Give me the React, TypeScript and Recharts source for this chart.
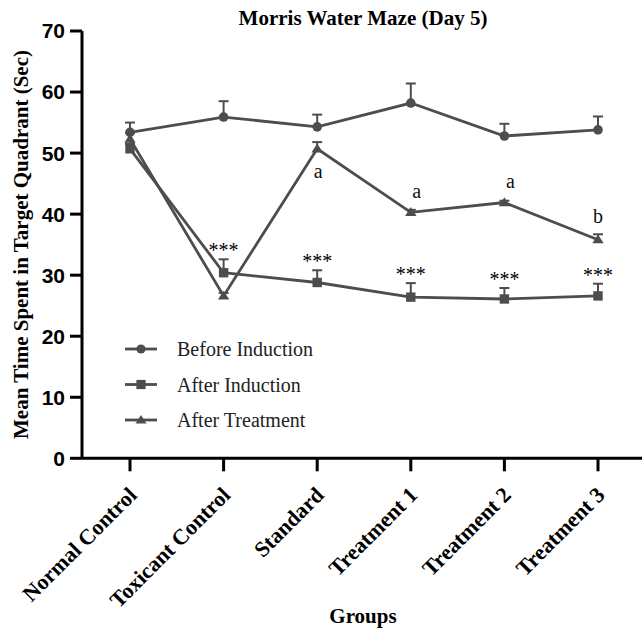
import React from 'react';
import { LineChart, Line, XAxis, YAxis, ErrorBar, LabelList, Legend, Customized } from 'recharts';

const groups = ['Normal Control', 'Toxicant Control', 'Standard', 'Treatment 1', 'Treatment 2', 'Treatment 3'];
const beforeInduction = [53.4, 55.9, 54.3, 58.2, 52.8, 53.8];
const beforeInductionSem = [1.6, 2.6, 2.0, 3.2, 2.0, 2.2];
const afterInduction = [50.7, 30.4, 28.8, 26.4, 26.1, 26.6];
const afterInductionSem = [0.8, 2.2, 2.0, 2.3, 1.8, 2.0];
const afterTreatment = [52.3, 26.6, 50.7, 40.3, 41.9, 35.8];
const afterTreatmentSem = [1.0, 0.5, 1.1, 0.4, 0.3, 0.9];
const inductionMarks = ['', '***', '***', '***', '***', '***'];
const treatmentMarks = ['', '', 'a', 'a', 'a', 'b'];
const yTicks = [0, 10, 20, 30, 40, 50, 60, 70];
const seriesNames = ['Before Induction', 'After Induction', 'After Treatment'];

const data = groups.map((g, i) => ({
  group: g,
  before: beforeInduction[i],
  beforeErr: [0, beforeInductionSem[i]],
  beforeTop: beforeInduction[i] + beforeInductionSem[i],
  induction: afterInduction[i],
  inductionErr: [0, afterInductionSem[i]],
  inductionTop: afterInduction[i] + afterInductionSem[i],
  inductionMark: inductionMarks[i],
  treatment: afterTreatment[i],
  treatmentErr: [0, afterTreatmentSem[i]],
  treatmentTop: afterTreatment[i] + afterTreatmentSem[i],
  treatmentMark: treatmentMarks[i],
}));

// styling
const C = '#4d4d4d';
const SERIF = '"Liberation Serif", "Times New Roman", serif';
const SANS = '"Liberation Sans", Arial, sans-serif';
const letterOffsets = [
  { dx: 0, dy: 0 },
  { dx: 0, dy: 0 },
  { dx: 1, dy: 36 },
  { dx: 6, dy: -12 },
  { dx: 6, dy: -13 },
  { dx: 0, dy: -11 },
];

const CircleDot = (p: any) =>
  p.cx == null ? null : <circle key={`c-${p.index}`} cx={p.cx} cy={p.cy} r={4.8} fill={C} />;
const SquareDot = (p: any) =>
  p.cx == null ? null : (
    <rect key={`s-${p.index}`} x={p.cx - 4.7} y={p.cy - 4.7} width={9.4} height={9.4} fill={C} />
  );
const TriangleDot = (p: any) =>
  p.cx == null ? null : (
    <polygon
      key={`t-${p.index}`}
      points={`${p.cx},${p.cy - 5.2} ${p.cx + 5.7},${p.cy + 3.6} ${p.cx - 5.7},${p.cy + 3.6}`}
      fill={C}
    />
  );
const CapDot = (p: any) =>
  p.cx == null ? null : (
    <line key={`cap-${p.dataKey}-${p.index}`} x1={p.cx - 5} x2={p.cx + 5} y1={p.cy} y2={p.cy} stroke={C} strokeWidth={2} />
  );

const shapeFor = (i: number, cx: number, cy: number) => {
  if (i === 0) return <circle cx={cx} cy={cy} r={4.6} fill={C} />;
  if (i === 1) return <rect x={cx - 4.6} y={cy - 4.6} width={9.2} height={9.2} fill={C} />;
  return <polygon points={`${cx},${cy - 5} ${cx + 5.5},${cy + 3.5} ${cx - 5.5},${cy + 3.5}`} fill={C} />;
};

const GroupTick = (props: any) => {
  const { x, y, payload } = props;
  return (
    <g transform={`translate(${x + 8},${y + 23}) rotate(-45)`}>
      <text x={0} y={0} textAnchor="end" fontFamily={SERIF} fontWeight="bold" fontSize={22} fill="#000">
        {payload.value}
      </text>
    </g>
  );
};

const StarLabel = (props: any) => {
  const { x, y, value } = props;
  if (!value) return null;
  return (
    <text x={x} y={y - 2} textAnchor="middle" fontFamily={SERIF} fontSize={20} fill="#000">
      {value}
    </text>
  );
};

const LetterLabel = (props: any) => {
  const { x, y, value, index } = props;
  if (!value) return null;
  const o = letterOffsets[index] || { dx: 0, dy: 0 };
  return (
    <text x={x + o.dx} y={y + o.dy} textAnchor="middle" fontFamily={SERIF} fontSize={20} fill="#111">
      {value}
    </text>
  );
};

const LegendBox = () => (
  <svg width={280} height={110}>
    {seriesNames.map((name, i) => {
      const rowY = 17 + i * 35.5;
      return (
        <g key={name}>
          <line x1={5} x2={37} y1={rowY} y2={rowY} stroke={C} strokeWidth={2.8} />
          {shapeFor(i, 21, rowY)}
          <text x={57} y={rowY + 7} fontFamily={SERIF} fontSize={20} fill="#222">
            {name}
          </text>
        </g>
      );
    })}
  </svg>
);

const Texts = () => (
  <g>
    <text x={363} y={24.5} textAnchor="middle" fontFamily={SERIF} fontWeight="bold" fontSize={21} fill="#000">
      Morris Water Maze (Day 5)
    </text>
    <text x={363} y={623} textAnchor="middle" fontFamily={SERIF} fontWeight="bold" fontSize={21} fill="#000">
      Groups
    </text>
    <text
      transform="translate(28,244.5) rotate(-90)"
      x={0}
      y={0}
      textAnchor="middle"
      fontFamily={SERIF}
      fontWeight="bold"
      fontSize={21}
      fill="#000"
    >
      Mean Time Spent in Target Quadrant (Sec)
    </text>
  </g>
);

const hiddenLine = (key: string, children?: React.ReactNode, dot: any = false) => (
  <Line
    key={key}
    dataKey={key}
    stroke="none"
    dot={dot}
    activeDot={false}
    legendType="none"
    isAnimationActive={false}
  >
    {children}
  </Line>
);

export default function App() {
  return (
    <div style={{ position: 'absolute', left: 0, top: 0, width: 642, height: 631, background: '#fff' }}>
      <LineChart width={642} height={631} data={data} margin={{ top: 31, right: 0, bottom: 0, left: 0 }}>
        <XAxis
          dataKey="group"
          scale="point"
          padding={{ left: 48, right: 44 }}
          interval={0}
          height={172.7}
          axisLine={{ stroke: '#000', strokeWidth: 3 }}
          tickLine={{ stroke: '#000', strokeWidth: 3 }}
          tickSize={13}
          tick={<GroupTick />}
        />
        <YAxis
          type="number"
          domain={[0, 70]}
          ticks={yTicks}
          width={82}
          axisLine={{ stroke: '#000', strokeWidth: 3 }}
          tickLine={{ stroke: '#000', strokeWidth: 3 }}
          tickSize={12}
          tickMargin={5}
          tick={{ fontFamily: SANS, fontWeight: 'bold', fontSize: 21, fill: '#000' }}
        />
        <Legend
          layout="vertical"
          align="center"
          verticalAlign="middle"
          wrapperStyle={{ left: 120, top: 332, width: 280, height: 110 }}
          content={() => <LegendBox />}
        />
        {hiddenLine('treatmentTop', null, CapDot)}
        {hiddenLine('inductionTop', null, CapDot)}
        {hiddenLine('beforeTop', null, CapDot)}
        <Line
          name={seriesNames[2]}
          dataKey="treatment"
          stroke={C}
          strokeWidth={2.8}
          dot={TriangleDot}
          activeDot={false}
          isAnimationActive={false}
        >
          <ErrorBar dataKey="treatmentErr" direction="y" width={0} stroke={C} strokeWidth={2} />
        </Line>
        <Line
          name={seriesNames[1]}
          dataKey="induction"
          stroke={C}
          strokeWidth={2.8}
          dot={SquareDot}
          activeDot={false}
          isAnimationActive={false}
        >
          <ErrorBar dataKey="inductionErr" direction="y" width={0} stroke={C} strokeWidth={2} />
        </Line>
        <Line
          name={seriesNames[0]}
          dataKey="before"
          stroke={C}
          strokeWidth={2.8}
          dot={CircleDot}
          activeDot={false}
          isAnimationActive={false}
        >
          <ErrorBar dataKey="beforeErr" direction="y" width={0} stroke={C} strokeWidth={2} />
        </Line>
        <Line
          dataKey="inductionTop"
          stroke="none"
          dot={false}
          activeDot={false}
          legendType="none"
          isAnimationActive={false}
        >
          <LabelList dataKey="inductionMark" content={StarLabel} />
        </Line>
        <Line
          dataKey="treatmentTop"
          stroke="none"
          dot={false}
          activeDot={false}
          legendType="none"
          isAnimationActive={false}
        >
          <LabelList dataKey="treatmentMark" content={LetterLabel} />
        </Line>
        <Customized component={Texts} />
      </LineChart>
    </div>
  );
}
